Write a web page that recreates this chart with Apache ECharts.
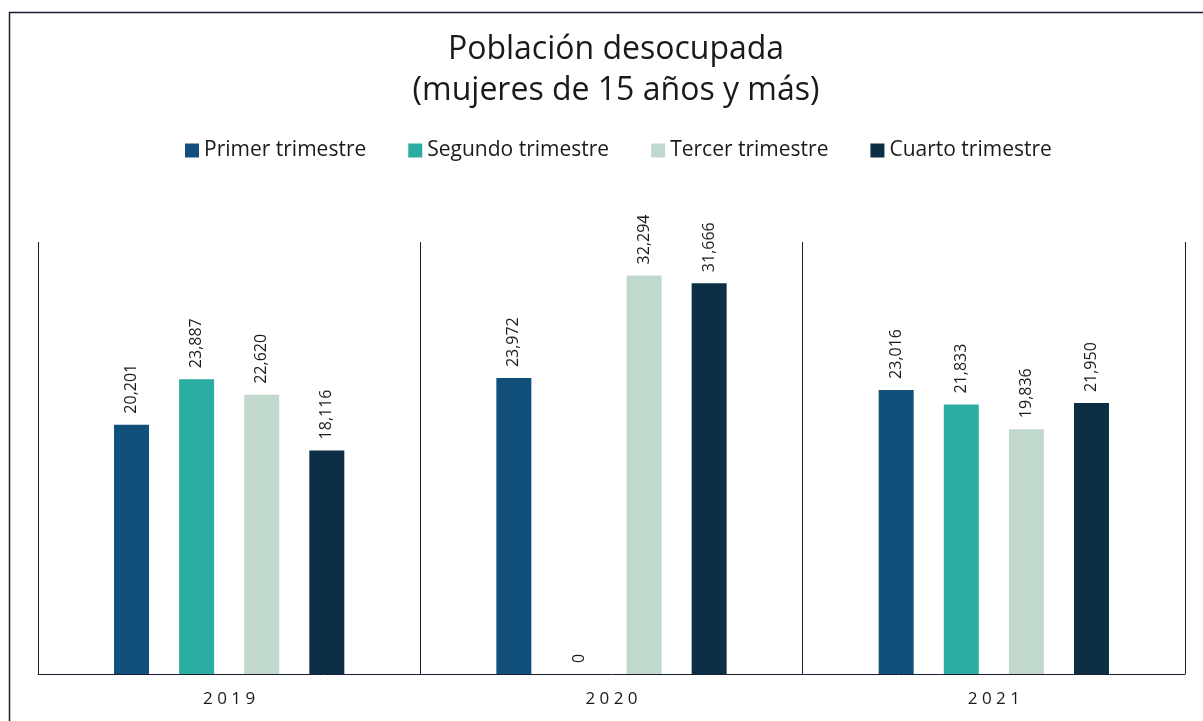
<!DOCTYPE html>
<html>
<head>
<meta charset="utf-8">
<script src="https://cdn.jsdelivr.net/npm/echarts@6/dist/echarts.min.js"></script>
<style>
    html, body { margin: 0; padding: 0; background: #fff; }
    #chart { width: 1203px; height: 721px; }
</style>
</head>
<body>
<div id="chart"></div>
<script>
    // datos del grafico
    var years = ['2019', '2020', '2021'];
    var seriesNames = ['Primer trimestre', 'Segundo trimestre', 'Tercer trimestre', 'Cuarto trimestre'];
    var primer = [20201, 23972, 23016];
    var segundo = [23887, 0, 21833];
    var tercer = [22620, 32294, 19836];
    var cuarto = [18116, 31666, 21950];
    var colors = ['#11507a', '#2bada1', '#c1d9cc', '#0d2f45'];

    var myChart = echarts.init(document.getElementById('chart'));
    var wideFont = '"Open Sans", Lato, sans-serif';

    function fmt(v) {
        return v.toString().replace(/\B(?=(\d{3})+(?!\d))/g, ',');
    }

    var allData = [primer, segundo, tercer, cuarto];
    var series = [];
    for (var i = 0; i < allData.length; i++) {
        series.push({
            name: seriesNames[i],
            type: 'bar',
            barWidth: 35,
            barGap: '86%',
            data: allData[i],
            itemStyle: { color: colors[i] },
            label: {
                show: true,
                position: 'top',
                rotate: 90,
                distance: 11,
                align: 'left',
                verticalAlign: 'middle',
                color: '#1a1a1a',
                fontFamily: wideFont,
                fontSize: 16,
                formatter: function (p) { return fmt(p.value); }
            }
        });
    }

    var option = {
        animation: false,
        color: colors,
        title: {
            text: 'Población desocupada\n(mujeres de 15 años y más)',
            left: 611,
            textAlign: 'center',
            top: 24,
            textStyle: {
                fontFamily: wideFont,
                fontWeight: 'normal',
                fontSize: 32,
                lineHeight: 41,
                color: '#1a1a1a'
            }
        },
        legend: {
            top: 135,
            left: 180,
            itemWidth: 14,
            itemHeight: 14,
            itemGap: 42,
            icon: 'rect',
            textStyle: { fontFamily: wideFont, fontSize: 21, color: '#1a1a1a' },
            data: seriesNames
        },
        grid: { left: 38, right: 18, top: 242, bottom: 47 },
        xAxis: {
            type: 'category',
            data: years,
            axisLine: { lineStyle: { color: '#1a1a33', width: 1 } },
            axisTick: { show: false },
            splitLine: { show: true, lineStyle: { color: '#1a1a33', width: 1 } },
            axisLabel: {
                margin: 17,
                fontFamily: wideFont,
                fontSize: 17,
                color: '#1a1a1a',
                formatter: function (v) { return v.split('').join(' '); }
            }
        },
        yAxis: {
            type: 'value',
            min: 0,
            max: 35000,
            show: false,
            splitLine: { show: false }
        },
        graphic: [{
            type: 'rect',
            left: 7,
            top: 10,
            shape: { width: 1210, height: 730 },
            style: { fill: 'none', stroke: '#1a1a33', lineWidth: 1.5 },
            silent: true
        }],
        series: series
    };

    myChart.setOption(option);
</script>
</body>
</html>
